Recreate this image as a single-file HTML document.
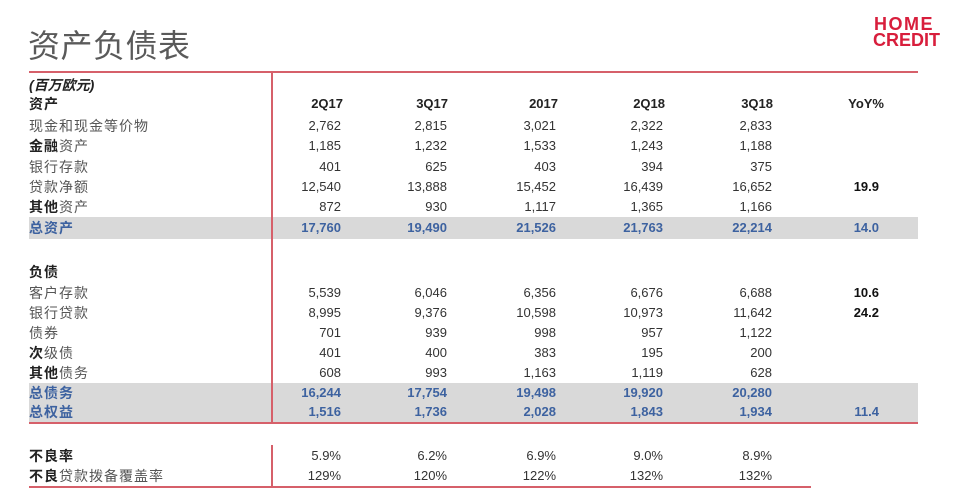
<!DOCTYPE html>
<html><head><meta charset="utf-8">
<style>
*{margin:0;padding:0;box-sizing:border-box}
html,body{width:965px;height:492px;background:#fff;overflow:hidden}
body{position:relative;font-family:"Liberation Sans","Noto Sans CJK SC",sans-serif;color:#333}
.abs{position:absolute}
.title{left:28px;top:26px;font-size:32px;line-height:40px;color:#5a5a5a;font-family:"Liberation Sans","Noto Sans CJK SC",sans-serif;letter-spacing:0.5px}
.logo{left:873px;top:16px;color:#d81e3c;font-weight:bold;font-size:18px;line-height:16px;font-family:"Liberation Sans",sans-serif}
.logo .h{letter-spacing:1.5px;margin-left:1px}
.hline{position:absolute;height:2px;background:#d6606a}
.vline{position:absolute;width:2px;background:#d6606a}
.band{position:absolute;background:#d9d9d9;left:29px;width:889px}
.row{position:absolute;left:0;width:965px;height:20px;line-height:20px;font-size:13px}
.lab{position:absolute;left:29px;font-size:14px;letter-spacing:1px;color:#555;font-family:"Liberation Sans","Noto Sans CJK SC",sans-serif;white-space:nowrap}
.lab b{color:#222;font-weight:bold}
.n{position:absolute;text-align:right;width:80px;color:#333}
.c1{left:261px}.c2{left:367px}.c3{left:476px}.c4{left:583px}.c5{left:692px}.c6{left:799px}
.hd .n{font-weight:bold;color:#222}
.hd .c1{left:263px}.hd .c2{left:368px}.hd .c3{left:478px}.hd .c4{left:585px}.hd .c5{left:693px}.hd .c6{left:804px}
.blue .n,.blue .lab{color:#3d62a0;font-weight:bold}
.bold{font-weight:bold;color:#111 !important}
</style></head><body>
<div class="abs title">资产负债表</div>
<div class="abs logo"><div class="h">HOME</div><div>CREDIT</div></div>

<div class="band" style="top:217px;height:22px"></div>
<div class="band" style="top:383px;height:40px"></div>

<div class="hline" style="left:29px;width:889px;top:71px"></div>
<div class="vline" style="left:271px;top:72px;height:352px"></div>
<div class="hline" style="left:29px;width:889px;top:422px"></div>
<div class="vline" style="left:271px;top:445px;height:42px"></div>
<div class="hline" style="left:29px;width:782px;top:486px"></div>

<div class="row" style="top:75px"><span class="lab" style="font-weight:bold;font-style:italic;color:#222;letter-spacing:0">(百万欧元)</span></div>
<div class="row hd" style="top:94px"><span class="lab"><b>资产</b></span><span class="n c1">2Q17</span><span class="n c2">3Q17</span><span class="n c3">2017</span><span class="n c4">2Q18</span><span class="n c5">3Q18</span><span class="n c6">YoY%</span></div>
<div class="row" style="top:116px"><span class="lab">现金和现金等价物</span><span class="n c1">2,762</span><span class="n c2">2,815</span><span class="n c3">3,021</span><span class="n c4">2,322</span><span class="n c5">2,833</span></div>
<div class="row" style="top:136px"><span class="lab"><b>金融</b>资产</span><span class="n c1">1,185</span><span class="n c2">1,232</span><span class="n c3">1,533</span><span class="n c4">1,243</span><span class="n c5">1,188</span></div>
<div class="row" style="top:157px"><span class="lab">银行存款</span><span class="n c1">401</span><span class="n c2">625</span><span class="n c3">403</span><span class="n c4">394</span><span class="n c5">375</span></div>
<div class="row" style="top:177px"><span class="lab">贷款净额</span><span class="n c1">12,540</span><span class="n c2">13,888</span><span class="n c3">15,452</span><span class="n c4">16,439</span><span class="n c5">16,652</span><span class="n c6 bold">19.9</span></div>
<div class="row" style="top:197px"><span class="lab"><b>其他</b>资产</span><span class="n c1">872</span><span class="n c2">930</span><span class="n c3">1,117</span><span class="n c4">1,365</span><span class="n c5">1,166</span></div>
<div class="row blue" style="top:218px"><span class="lab">总资产</span><span class="n c1">17,760</span><span class="n c2">19,490</span><span class="n c3">21,526</span><span class="n c4">21,763</span><span class="n c5">22,214</span><span class="n c6">14.0</span></div>

<div class="row" style="top:262px"><span class="lab"><b>负债</b></span></div>
<div class="row" style="top:283px"><span class="lab">客户存款</span><span class="n c1">5,539</span><span class="n c2">6,046</span><span class="n c3">6,356</span><span class="n c4">6,676</span><span class="n c5">6,688</span><span class="n c6 bold">10.6</span></div>
<div class="row" style="top:303px"><span class="lab">银行贷款</span><span class="n c1">8,995</span><span class="n c2">9,376</span><span class="n c3">10,598</span><span class="n c4">10,973</span><span class="n c5">11,642</span><span class="n c6 bold">24.2</span></div>
<div class="row" style="top:323px"><span class="lab">债券</span><span class="n c1">701</span><span class="n c2">939</span><span class="n c3">998</span><span class="n c4">957</span><span class="n c5">1,122</span></div>
<div class="row" style="top:343px"><span class="lab"><b>次</b>级债</span><span class="n c1">401</span><span class="n c2">400</span><span class="n c3">383</span><span class="n c4">195</span><span class="n c5">200</span></div>
<div class="row" style="top:363px"><span class="lab"><b>其他</b>债务</span><span class="n c1">608</span><span class="n c2">993</span><span class="n c3">1,163</span><span class="n c4">1,119</span><span class="n c5">628</span></div>
<div class="row blue" style="top:383px"><span class="lab">总债务</span><span class="n c1">16,244</span><span class="n c2">17,754</span><span class="n c3">19,498</span><span class="n c4">19,920</span><span class="n c5">20,280</span></div>
<div class="row blue" style="top:402px"><span class="lab">总权益</span><span class="n c1">1,516</span><span class="n c2">1,736</span><span class="n c3">2,028</span><span class="n c4">1,843</span><span class="n c5">1,934</span><span class="n c6">11.4</span></div>

<div class="row" style="top:446px"><span class="lab"><b>不良率</b></span><span class="n c1">5.9%</span><span class="n c2">6.2%</span><span class="n c3">6.9%</span><span class="n c4">9.0%</span><span class="n c5">8.9%</span></div>
<div class="row" style="top:466px"><span class="lab"><b>不良</b>贷款拨备覆盖率</span><span class="n c1">129%</span><span class="n c2">120%</span><span class="n c3">122%</span><span class="n c4">132%</span><span class="n c5">132%</span></div>
</body></html>
